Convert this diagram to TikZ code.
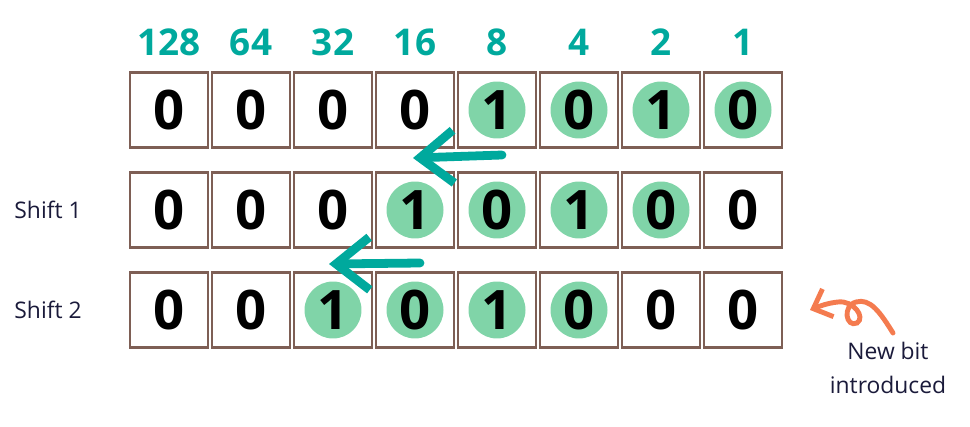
\documentclass[tikz,border=0pt]{standalone}
\usepackage{fontspec}
\setmainfont{Open Sans}
\usetikzlibrary{positioning,arrows.meta}

\definecolor{verdeacqua}{HTML}{00A99D}
\definecolor{menta}{HTML}{80D4A8}
\definecolor{marrone}{HTML}{7E5F55}
\definecolor{arancio}{HTML}{F47B4F}
\definecolor{inchiostro}{HTML}{1A1A3A}

\begin{document}
\begin{tikzpicture}[x=0.02cm, y=-0.02cm,
    cella/.style={draw=marrone, line width=1.4pt, minimum width=1.56cm, minimum height=1.5cm, inner sep=0pt,
        font=\fontsize{31}{31}\selectfont\bfseries},
    pallino/.style={circle, fill=menta, minimum size=1.14cm, inner sep=0pt},
    peso/.style={text=verdeacqua, font=\fontsize{21}{21}\selectfont\bfseries},
    etichetta/.style={text=inchiostro, font=\fontsize{13}{13}\selectfont},
    spinta/.style={verdeacqua, line width=5pt, line cap=round,
        -{Straight Barb[length=19pt, width=30pt]}}]

    \useasboundingbox (0,0) rectangle (970,426);

    % -- Pesi delle colonne --
    \foreach \p [count=\k] in {128,64,32,16,8,4,2,1}
        \node[peso] (p\k) at ({169+82*(\k-1)}, 42) {\p};

    % -- Le tre righe: originale, shift 1, shift 2 --
    \foreach \r/\parola/\da in {1/{0,0,0,0,1,0,1,0}/5,
                                2/{0,0,0,1,0,1,0,0}/4,
                                3/{0,0,1,0,1,0,0,0}/3}{
        \pgfmathtruncatemacro\fine{\da+3}
        \foreach \b [count=\k] in \parola {
            \ifnum\k<\da\relax\else\ifnum\k>\fine\relax\else
                \node[pallino] (v\r-\k) at ({169+82*(\k-1)}, {110+100*(\r-1)}) {};
            \fi\fi
            \node[cella] (c\r-\k) at ({169+82*(\k-1)}, {110+100*(\r-1)}) {\b};
        }
    }

    % Etichette a sinistra
    \node[etichetta, left=0.82cm of c2-1] (s1) {Shift 1};
    \node[etichetta, left=0.82cm of c3-1] (s2) {Shift 2};

    % -- Frecce di scorrimento --
    \coordinate (coda1) at (502,155);
    \coordinate (punta1) at (413,158);
    \coordinate (coda2) at (420,263);
    \coordinate (punta2) at (329,264);
    \draw[spinta] (coda1) -- (punta1);
    \draw[spinta] (coda2) -- (punta2);

    % -- Nuovo bit: freccia arricciata e testo --
    \coordinate (coda3) at (893,333);
    \coordinate (punta3) at (810,310);
    \draw[arancio, line width=2.8pt, line cap=round, -{Straight Barb[length=9pt, width=17pt]}]
        (coda3) .. controls (880,312) and (870,298) .. (856,302)
                .. controls (842,306) and (846,328) .. (857,323)
                .. controls (866,317) and (853,300) .. (838,302)
                .. controls (828,303) and (820,306) .. (punta3);

    \node[etichetta, align=center, font=\fontsize{13}{19}\selectfont] (nuovo) at (888,368) {New bit\\introduced};
\end{tikzpicture}
\end{document}
